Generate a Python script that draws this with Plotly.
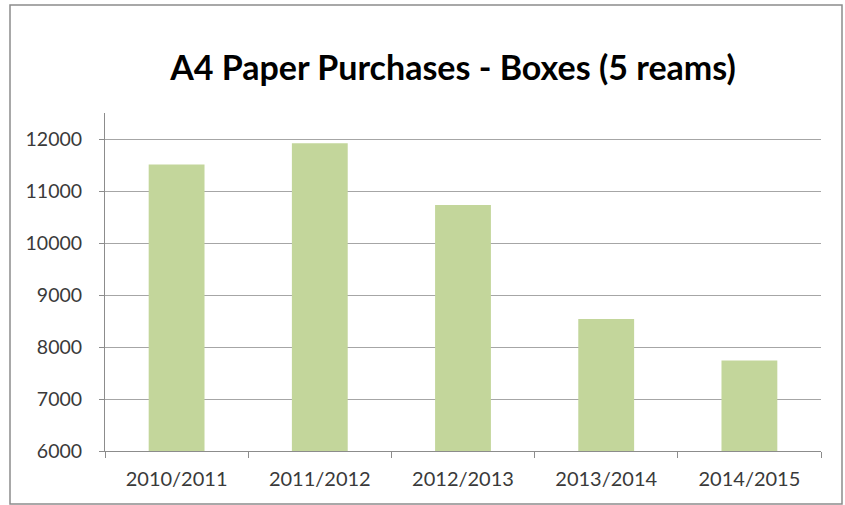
import plotly.graph_objects as go

categories = ["2010/2011", "2011/2012", "2012/2013", "2013/2014", "2014/2015"]
boxes = [11510, 11920, 10730, 8540, 7740]
y_ticks = [6000, 7000, 8000, 9000, 10000, 11000, 12000]

W, H = 845, 505
L, R, T, B = 105, 24, 113, 54
pw, ph = W - L - R, H - T - B

fig = go.Figure(go.Bar(x=categories, y=boxes, marker=dict(color="#c3d69b", line=dict(width=0)), width=0.39))

def px_x(x):
    return (x - L) / pw

def px_y(y):
    return (H - B - y) / ph

fig.update_layout(
    width=W, height=H,
    margin=dict(l=L, r=R, t=T, b=B),
    paper_bgcolor="white", plot_bgcolor="white",
    showlegend=False,
    font=dict(family="Lato, Carlito, sans-serif", size=19, color="#3a3a3a"),
    title=dict(text="<b>A4 Paper Purchases - Boxes (5 reams)</b>",
               font=dict(family="Lato, Carlito, sans-serif", size=34, color="#000000"),
               x=453 / W, xanchor="center", y=1 - 68 / H, yanchor="middle"),
    shapes=[dict(type="rect", xref="paper", yref="paper",
                 x0=px_x(10), x1=px_x(842), y0=px_y(504), y1=px_y(5),
                 line=dict(color="#8c8c8c", width=1.5), fillcolor="rgba(0,0,0,0)", layer="below")],
)
fig.update_xaxes(
    type="category", showline=True, linecolor="#8c8c8c", linewidth=1,
    ticks="outside", tickson="boundaries", ticklen=6, tickcolor="#8c8c8c",
    showgrid=False, tickfont=dict(size=20, color="#3a3a3a"), ticklabelstandoff=10,
)
fig.update_yaxes(
    range=[6000, 12500], tickvals=y_ticks, ticktext=[str(v) for v in y_ticks],
    showline=True, linecolor="#8c8c8c", linewidth=1,
    ticks="outside", ticklen=5, tickcolor="#8c8c8c",
    showgrid=True, gridcolor="#a6a6a6", gridwidth=1,
    tickfont=dict(size=19.5, color="#3a3a3a"), ticklabelstandoff=13, zeroline=False,
)

fig.write_html("out.html")
